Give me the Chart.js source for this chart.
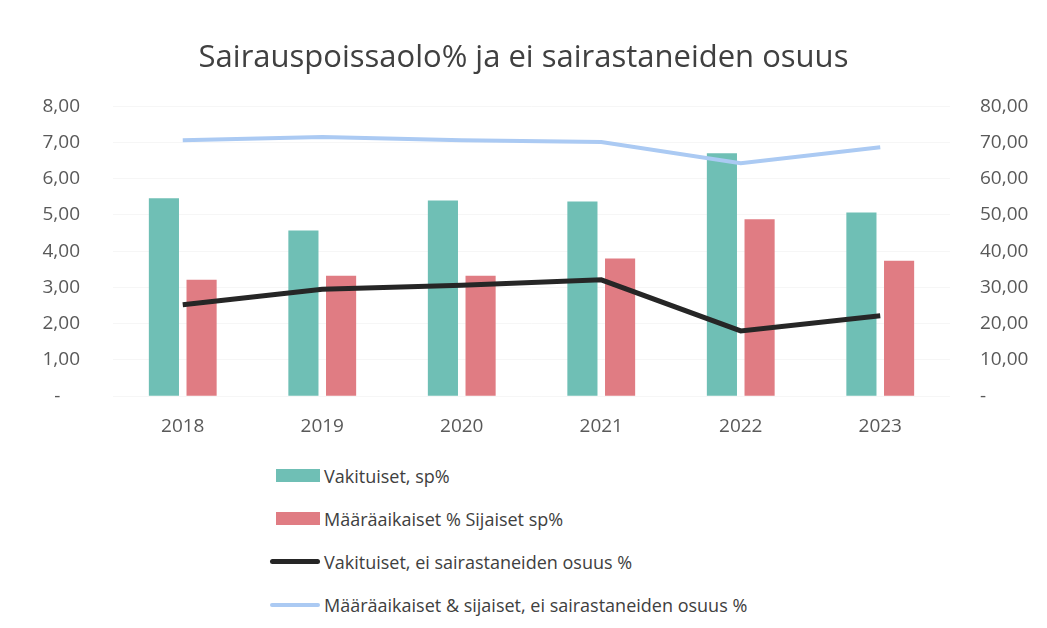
<!DOCTYPE html>
<html>
<head>
<meta charset="utf-8">
<script src="https://cdn.jsdelivr.net/npm/chart.js@4"></script>
<style>
  html, body { margin:0; padding:0; background:#fff; }
  #wrap { position:relative; width:1047px; height:628px; font-family:"Open Sans", sans-serif; }
  #chartBox { position:absolute; left:0; top:0; width:1047px; height:449px; }
  #legend { position:absolute; left:270px; top:454px; }
  .lg-item { display:flex; align-items:center; height:43px; font-size:18px; color:#404040; }
  .lg-sym { width:50px; display:flex; align-items:center; justify-content:flex-end; margin-right:4px; }
</style>
</head>
<body>
<div id="wrap">
  <div id="chartBox"><canvas id="c"></canvas></div>
  <div id="legend"></div>
</div>
<script>
// Sairauspoissaolo% — values
const years = ['2018', '2019', '2020', '2021', '2022', '2023'];
const vakituisetSp = [5.46, 4.57, 5.40, 5.37, 6.70, 5.07];
const maaraaikaisetSp = [3.21, 3.32, 3.32, 3.80, 4.88, 3.74];
const vakituisetEiSair = [25.2, 29.5, 30.6, 32.1, 18.0, 22.2];
const maaraaikaisetEiSair = [70.6, 71.5, 70.6, 70.1, 64.3, 68.7];
const leftTicks = [0, 1, 2, 3, 4, 5, 6, 7, 8];
const rightTicks = [0, 10, 20, 30, 40, 50, 60, 70, 80];

const TEAL = '#6fbfb5', RED = '#e07c83', BLACK = '#262626', BLUE = '#abcaf3';
const fi = v => v === 0 ? '-' : v.toFixed(2).replace('.', ',');
const tickFont = { family: '"Open Sans", sans-serif', size: 19 };

const datasets = [
  { type:'bar', label:'Vakituiset, sp%', data:vakituisetSp, backgroundColor:TEAL, yAxisID:'y', order:2,
    categoryPercentage:0.54, barPercentage:0.8 },
  { type:'bar', label:'Määräaikaiset % Sijaiset sp%', data:maaraaikaisetSp, backgroundColor:RED, yAxisID:'y', order:2,
    categoryPercentage:0.54, barPercentage:0.8 },
  { type:'line', label:'Vakituiset, ei sairastaneiden osuus %', data:vakituisetEiSair, borderColor:BLACK,
    borderWidth:5, pointRadius:0, tension:0, yAxisID:'y1', order:0 },
  { type:'line', label:'Määräaikaiset & sijaiset, ei sairastaneiden osuus %', data:maaraaikaisetEiSair, borderColor:BLUE,
    borderWidth:4, pointRadius:0, tension:0, yAxisID:'y1', order:1 },
];

new Chart(document.getElementById('c'), {
  type: 'bar',
  data: { labels: years, datasets },
  options: {
    responsive: true, maintainAspectRatio: false, animation: false,
    layout: { padding: { left: 0, right: 0, top: 0, bottom: 0 } },
    plugins: {
      legend: { display: false },
      tooltip: { enabled: false },
      title: { display: true, text: 'Sairauspoissaolo% ja ei sairastaneiden osuus', color:'#404040',
        font: { family:'"Open Sans", sans-serif', size: 31, weight: 'normal' }, padding: { top: 40, bottom: 29 } }
    },
    scales: {
      x: { grid: { display:false }, border: { display:false },
        ticks: { color:'#595959', font: tickFont, padding: 11 } },
      y: { position:'left', min:0, max:8, border:{ display:false },
        grid: { color:'rgba(0,0,0,0.035)', drawTicks:false },
        afterBuildTicks: s => { s.ticks = leftTicks.map(v => ({ value: v })); },
        afterFit: s => { s.width = 113; },
        ticks: { color:'#595959', font: tickFont, padding: 33, callback: v => v === 0 ? '-    ' : fi(v) } },
      y1: { position:'right', min:0, max:80, border:{ display:false },
        grid: { display:false, drawTicks:false },
        afterBuildTicks: s => { s.ticks = rightTicks.map(v => ({ value: v })); },
        afterFit: s => { s.width = 97; },
        ticks: { color:'#595959', font: tickFont, padding: 30, callback: v => fi(v) } }
    }
  }
});

// legend, one entry per row as in the reference
const lg = document.getElementById('legend');
datasets.forEach(d => {
  const sym = d.type === 'bar'
    ? `<span style="display:inline-block;width:44px;height:13px;background:${d.backgroundColor}"></span>`
    : `<span style="display:inline-block;width:52px;height:${d.borderWidth}px;border-radius:3px;background:${d.borderColor}"></span>`;
  lg.insertAdjacentHTML('beforeend', `<div class="lg-item"><span class="lg-sym">${sym}</span>${d.label}</div>`);
});
</script>
</body>
</html>
